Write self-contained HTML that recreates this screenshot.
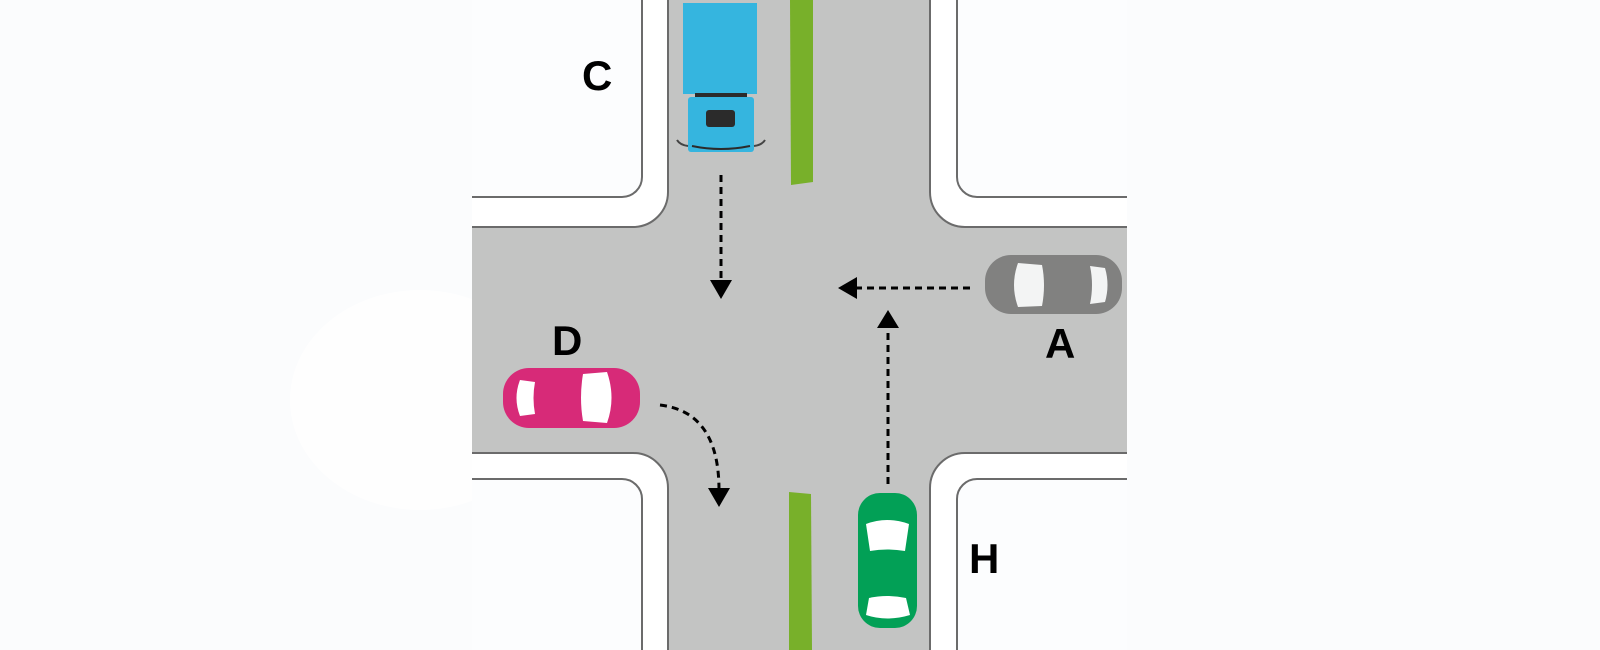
<!DOCTYPE html>
<html><head><meta charset="utf-8"><style>
html,body{margin:0;padding:0;background:#fbfcfd;}
svg{display:block}
text{font-family:"Liberation Sans",sans-serif;font-weight:bold;font-size:42px;fill:#000}
</style></head><body>
<svg width="1600" height="650" viewBox="0 0 1600 650" xmlns="http://www.w3.org/2000/svg">
<rect width="1600" height="650" fill="#fbfcfd"/>
<ellipse cx="420" cy="400" rx="130" ry="110" fill="#fefefe"/>
<rect x="472" y="0" width="655" height="650" fill="#c3c4c3"/>
<!-- blocks -->
<g fill="#ffffff" stroke="none">
<path d="M472,0 L668,0 L668,192 A35,35 0 0 1 633,227 L472,227Z"/>
<path d="M1127,0 L930,0 L930,192 A35,35 0 0 0 965,227 L1127,227Z"/>
<path d="M472,650 L668,650 L668,488 A35,35 0 0 0 633,453 L472,453Z"/>
<path d="M1127,650 L930,650 L930,488 A35,35 0 0 1 965,453 L1127,453Z"/>
</g>
<g fill="#fcfdfe">
<path d="M472,0 L642,0 L642,177 A20,20 0 0 1 622,197 L472,197Z"/>
<path d="M1127,0 L957,0 L957,177 A20,20 0 0 0 977,197 L1127,197Z"/>
<path d="M472,650 L642,650 L642,499 A20,20 0 0 0 622,479 L472,479Z"/>
<path d="M1127,650 L957,650 L957,499 A20,20 0 0 1 977,479 L1127,479Z"/>
</g>
<g fill="none" stroke="#6b6b6b" stroke-width="2">
<path d="M472,227 L633,227 A35,35 0 0 0 668,192 L668,0"/>
<path d="M472,197 L622,197 A20,20 0 0 0 642,177 L642,0"/>
<path d="M1127,227 L965,227 A35,35 0 0 1 930,192 L930,0"/>
<path d="M1127,197 L977,197 A20,20 0 0 1 957,177 L957,0"/>
<path d="M472,453 L633,453 A35,35 0 0 1 668,488 L668,650"/>
<path d="M472,479 L622,479 A20,20 0 0 1 642,499 L642,650"/>
<path d="M1127,453 L965,453 A35,35 0 0 0 930,488 L930,650"/>
<path d="M1127,479 L977,479 A20,20 0 0 0 957,499 L957,650"/>
</g>
<!-- grass -->
<path d="M790,0 L813,0 L813,182 L791,185Z" fill="#78b02a"/>
<path d="M789,492 L811,494 L812,650 L789,650Z" fill="#78b02a"/>
<!-- truck -->
<rect x="683" y="3" width="74" height="91" fill="#35b5df"/>
<rect x="695" y="93" width="52" height="4" fill="#2b2b2b"/>
<rect x="688" y="97" width="66" height="55" rx="3" fill="#35b5df"/>
<rect x="706" y="110" width="29" height="17" rx="3" fill="#2b2b2b"/>
<path d="M677,140 Q680,145 688,146 M765,140 Q762,145 754,146" stroke="#444" stroke-width="2" fill="none"/>
<path d="M692,146 Q721,152 750,146" stroke="#2b2b2b" stroke-width="2" fill="none"/>
<!-- pink car D -->
<rect x="503" y="368" width="137" height="60" rx="26" fill="#d72a78"/>
<path d="M520,380 L535,382 Q532,398 535,414 L520,416 Q513,398 520,380Z" fill="#fff"/>
<path d="M583,374 L607,372 Q616,398 607,423 L583,421 Q579,398 583,374Z" fill="#fff"/>
<!-- grey car A -->
<rect x="985" y="255" width="137" height="59" rx="26" fill="#818180"/>
<path d="M1018,263 L1042,265 Q1046,285 1042,306 L1018,307 Q1010,285 1018,263Z" fill="#f3f4f4"/>
<path d="M1090,266 L1105,268 Q1110,285 1105,302 L1090,304 Q1094,285 1090,266Z" fill="#f3f4f4"/>
<!-- green car -->
<rect x="858" y="493" width="59" height="135" rx="22" fill="#02a056"/>
<path d="M866,524 Q887,516 909,524 L905,551 Q887,548 870,551Z" fill="#fff"/>
<path d="M869,598 Q887,594 906,598 L910,615 Q887,622 866,615Z" fill="#fff"/>
<!-- arrows -->
<g stroke="#000" stroke-width="3" fill="none" stroke-dasharray="7,5">
<path d="M721,175 L721,280"/>
<path d="M970,288 L855,288"/>
<path d="M888,484 L888,325"/>
<path d="M660,405 Q719,412 719,490"/>
</g>
<g fill="#000">
<polygon points="710,280 732,280 721,299"/>
<polygon points="838,288 857,277 857,299"/>
<polygon points="888,310 877,328 899,328"/>
<polygon points="708,488 730,488 719,507"/>
</g>
<text x="582" y="90">C</text>
<text x="552" y="355">D</text>
<text x="1045" y="358">A</text>
<text x="969" y="573">H</text>
</svg>
</body></html>
